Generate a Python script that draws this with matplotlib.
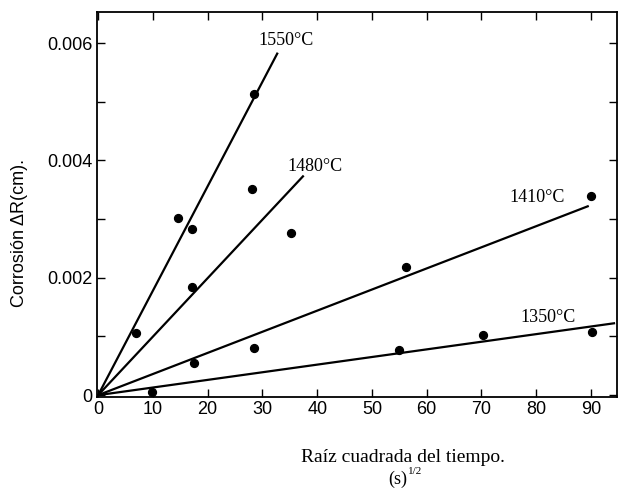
import numpy as np
import matplotlib.pyplot as plt

# data
x_1550 = [6.9, 14.6, 17.2, 28.5]
y_1550 = [0.00106, 0.00302, 0.00283, 0.00514]
x_1480 = [17.2, 28.1, 35.2]
y_1480 = [0.00184, 0.00351, 0.00276]
x_1410 = [17.5, 28.5, 56.2, 90.0]
y_1410 = [0.00055, 0.00080, 0.00218, 0.00339]
x_1350 = [9.9, 54.9, 70.3, 90.1]
y_1350 = [0.00005, 0.00077, 0.00102, 0.00107]

# fitted lines through origin: end x, slope
line_ends = [32.7, 37.4, 89.4, 94.2]
slopes = [0.000178, 0.0000997, 0.000036, 0.0000130]
labels = ['1550°C', '1480°C', '1410°C', '1350°C']
label_pos = [(34.4, 0.00605), (39.6, 0.0039), (80.1, 0.00337), (82.1, 0.00133)]

xticks = [0, 10, 20, 30, 40, 50, 60, 70, 80, 90]
yticks = [0, 0.002, 0.004, 0.006]
yticklabels = ['0', '0.002', '0.004', '0.006']

serif = ['Liberation Serif', 'DejaVu Serif']
sans = ['Liberation Sans', 'DejaVu Sans']

fig = plt.figure(figsize=(6.18, 4.90), dpi=100)
ax = fig.add_axes([0.157, 0.19, 0.841, 0.7855])

for xe, m in zip(line_ends, slopes):
    xs = np.array([0, xe])
    ax.plot(xs, m * xs, color='black', linewidth=1.6)

for xs, ys in [(x_1550, y_1550), (x_1480, y_1480), (x_1410, y_1410), (x_1350, y_1350)]:
    ax.scatter(xs, ys, s=32, color='black', zorder=3)

for lab, (lx, ly) in zip(labels, label_pos):
    ax.text(lx, ly, lab, ha='center', va='center', fontsize=13, family=serif)

ax.set_xlim(-0.2, 94.7)
ax.set_ylim(-0.00003, 0.00653)
ax.set_xticks(xticks)
ax.set_yticks(yticks)
ax.set_yticklabels(yticklabels)
ax.set_yticks([0.001, 0.003, 0.005], minor=True)
ax.tick_params(direction='in', top=True, right=True, which='both',
               length=6, width=1.0, labelsize=13, pad=3)
for t in ax.get_xticklabels() + ax.get_yticklabels():
    t.set_family(sans)
for s in ax.spines.values():
    s.set_linewidth(1.3)

fig.text(0.032, 0.525, 'Corrosión ΔR(cm).', rotation=90, ha='center', va='center',
         fontsize=13, family=sans)
fig.text(0.652, 0.067, 'Raíz cuadrada del tiempo.', ha='center', va='center',
         fontsize=14, family=serif)
# "(s)" with a small raised "1/2"
fig.text(0.659, 0.012, '(s)', ha='right', va='baseline', fontsize=13, family=serif)
fig.text(0.660, 0.032, '1/2', ha='left', va='baseline', fontsize=8, family=serif)

fig.savefig('out.png', dpi=100)
